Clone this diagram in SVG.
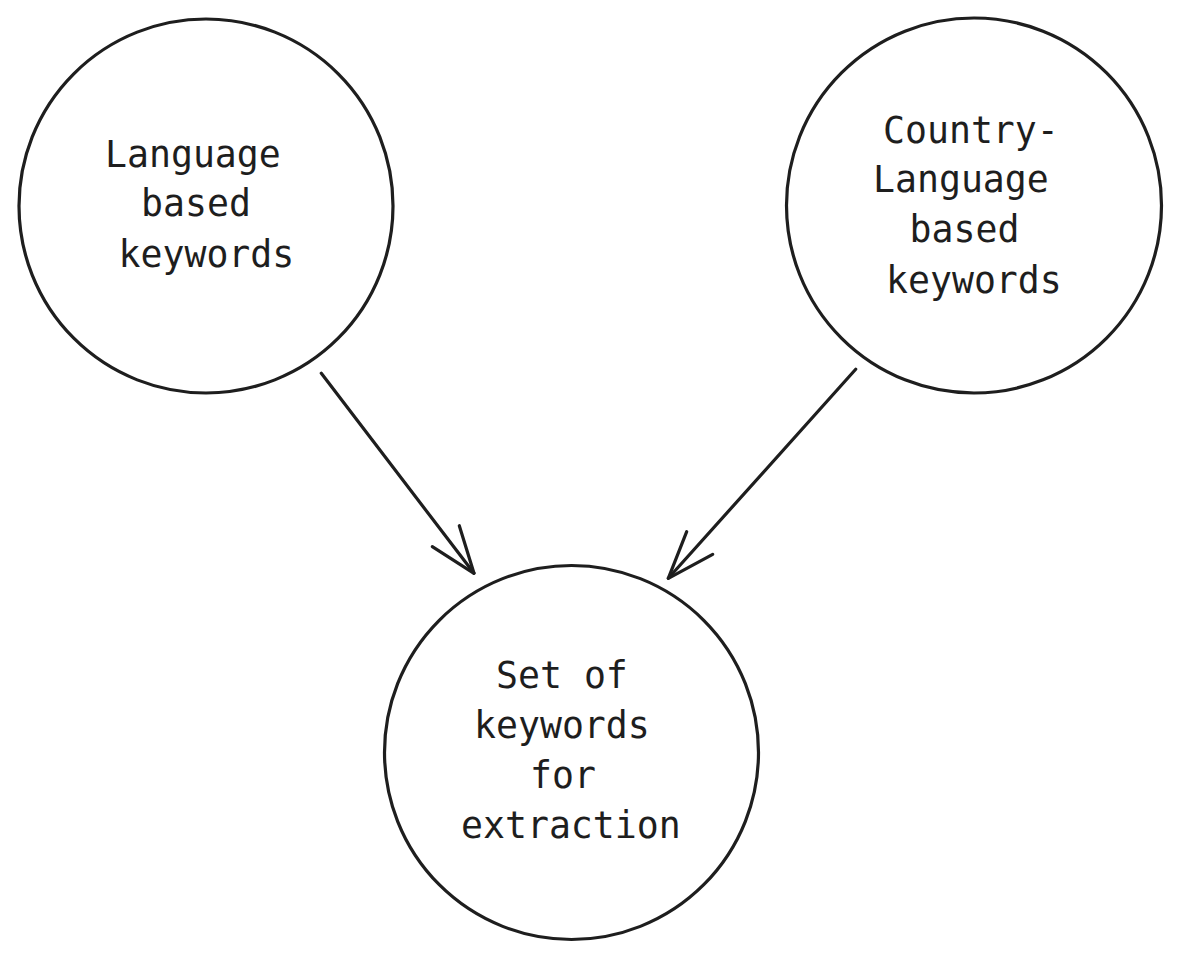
<svg xmlns="http://www.w3.org/2000/svg" width="1180" height="960" viewBox="0 0 1180 960">
<style>
.node{fill:#ffffff;stroke:#1e1e1e;stroke-width:3.2}
.lbl{font-family:"DejaVu Sans Mono","Liberation Mono",monospace;font-size:36.5px;fill:#1e1e1e}
.edge{fill:none;stroke:#1e1e1e;stroke-width:3.2;stroke-linecap:round;stroke-linejoin:round}
</style>
<rect width="1180" height="960" fill="#ffffff"/>
<g id="connectors">
<g id="edge-lang-set">
<path class="edge" d="M321.3,373.3 L474,573.3"/>
<path class="edge" d="M459.3,525.7 L474,573.3 L432.3,546.7"/>
</g>
<g id="edge-country-set">
<path class="edge" d="M855.7,369.3 L668.3,578.3"/>
<path class="edge" d="M686.7,531.7 L668.3,578.3 L712.7,554.3"/>
</g>
</g>
<g id="node-language">
<circle class="node" cx="206" cy="206" r="187"/>
<text class="lbl" x="105" y="167">Language</text>
<text class="lbl" x="141" y="216">based</text>
<text class="lbl" x="118.5" y="267">keywords</text>
</g>
<g id="node-country-language">
<circle class="node" cx="974" cy="205.5" r="187.5"/>
<text class="lbl" x="883" y="142.5">Country-</text>
<text class="lbl" x="873" y="192">Language</text>
<text class="lbl" x="909.5" y="242">based</text>
<text class="lbl" x="886" y="292.5">keywords</text>
</g>
<g id="node-set">
<circle class="node" cx="571.5" cy="752.5" r="187"/>
<text class="lbl" x="496" y="688.3">Set of</text>
<text class="lbl" x="474" y="738.3">keywords</text>
<text class="lbl" x="530" y="788.3">for</text>
<text class="lbl" x="461" y="838.3">extraction</text>
</g>
</svg>
